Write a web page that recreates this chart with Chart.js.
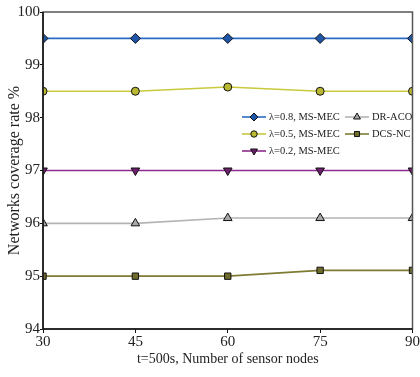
<!DOCTYPE html>
<html>
<head>
<meta charset="utf-8">
<script src="https://cdn.jsdelivr.net/npm/chart.js@4.4.1/dist/chart.umd.min.js"></script>
<style>
  html, body { margin: 0; padding: 0; background: #fff; }
  #wrap { width: 420px; height: 377px; }
</style>
</head>
<body>
<div id="wrap"><canvas id="coverChart" width="420" height="377"></canvas></div>
<script>
// Data
const nodes = [30, 45, 60, 75, 90];
const labels = ['λ=0.8, MS-MEC', 'λ=0.5, MS-MEC', 'λ=0.2, MS-MEC', 'DR-ACO', 'DCS-NC'];
const msMec08 = [99.5, 99.5, 99.5, 99.5, 99.5];
const msMec05 = [98.5, 98.5, 98.58, 98.5, 98.5];
const msMec02 = [97, 97, 97, 97, 97];
const drAco = [96, 96, 96.1, 96.1, 96.1];
const dcsNc = [95, 95, 95, 95.11, 95.11];
const yTicks = [94, 95, 96, 97, 98, 99, 100];

const serif = '"Liberation Serif", "Times New Roman", serif';

function series(label, values, line, fill, style, radius, rotation) {
  return {
    label: label,
    data: values.map((v, i) => ({ x: nodes[i], y: v })),
    borderColor: line,
    backgroundColor: fill,
    borderWidth: 1.6,
    pointStyle: style,
    pointRadius: radius,
    pointRotation: rotation || 0,
    pointBackgroundColor: fill,
    pointBorderColor: '#111',
    pointBorderWidth: 1,
    tension: 0
  };
}

const datasets = [
  series(labels[0], msMec08, '#2b6cc4', '#1f56a8', 'rectRot', 5),
  series(labels[1], msMec05, '#c9c93c', '#b9b832', 'circle', 4),
  series(labels[2], msMec02, '#8e2b8e', '#6d1f6d', 'triangle', 5, 180),
  series(labels[3], drAco, '#b4b4b4', '#a8a8a8', 'triangle', 5),
  series(labels[4], dcsNc, '#7f7b32', '#6f6b2a', 'rect', 4.5)
];

// legend laid out in two columns inside the plot
const legendSlots = [
  { x: 242, y: 117 }, { x: 242, y: 134 }, { x: 242, y: 151 },
  { x: 345, y: 117 }, { x: 345, y: 134 }
];

function drawMarker(ctx, ds, x, y, scale) {
  ctx.save();
  ctx.fillStyle = ds.pointBackgroundColor;
  ctx.strokeStyle = '#111';
  ctx.lineWidth = 1;
  Chart.helpers.drawPoint(ctx, {
    pointStyle: ds.pointStyle,
    radius: ds.pointRadius * scale,
    rotation: ds.pointRotation,
    borderWidth: 1
  }, x, y);
  ctx.restore();
}

const framePlugin = {
  id: 'frame',
  afterDatasetsDraw(chart) {
    const ctx = chart.ctx;
    const a = chart.chartArea;
    ctx.save();
    ctx.strokeStyle = '#555';
    ctx.lineWidth = 1.5;
    ctx.strokeRect(a.left, a.top, a.right - a.left, a.bottom - a.top);
    ctx.strokeStyle = '#111';
    ctx.beginPath();
    ctx.moveTo(a.left, a.top);
    ctx.lineTo(a.left, a.bottom);
    ctx.lineTo(a.right, a.bottom);
    ctx.stroke();

    ctx.font = '10.5px ' + serif;
    ctx.textBaseline = 'middle';
    chart.data.datasets.forEach((ds, i) => {
      const s = legendSlots[i];
      ctx.strokeStyle = ds.borderColor;
      ctx.lineWidth = 1.6;
      ctx.beginPath();
      ctx.moveTo(s.x, s.y);
      ctx.lineTo(s.x + 24, s.y);
      ctx.stroke();
      drawMarker(ctx, ds, s.x + 12, s.y, 0.8);
      ctx.fillStyle = '#222';
      ctx.fillText(ds.label, s.x + 27, s.y + 0.5);
    });
    ctx.restore();
  }
};

const config = {
  type: 'line',
  data: { datasets: datasets },
  options: {
    responsive: false,
    animation: false,
    layout: { padding: { top: 12, right: 5, left: 0, bottom: 0 } },
    plugins: {
      legend: { display: false },
      tooltip: { enabled: false }
    },
    scales: {
      x: {
        type: 'linear',
        min: 30,
        max: 90,
        afterFit(scale) { scale.height = 48; },
        afterBuildTicks(scale) { scale.ticks = nodes.map(v => ({ value: v })); },
        grid: { display: true, drawOnChartArea: false, color: '#111', tickLength: 4 },
        border: { display: false },
        ticks: { color: '#222', font: { family: serif, size: 15 }, padding: 0, maxRotation: 0 },
        title: {
          display: true,
          text: 't=500s, Number of sensor nodes',
          color: '#222',
          font: { family: serif, size: 14 },
          padding: { top: 0, bottom: 9 }
        }
      },
      y: {
        min: 94,
        max: 100,
        afterFit(scale) { scale.width = 43; },
        afterBuildTicks(scale) { scale.ticks = yTicks.map(v => ({ value: v })); },
        grid: { display: true, drawOnChartArea: false, color: '#111', tickLength: 3 },
        border: { display: false },
        ticks: { color: '#222', font: { family: serif, size: 15 }, padding: 0 },
        title: {
          display: true,
          text: 'Networks coverage rate %',
          color: '#222',
          font: { family: serif, size: 16 },
          padding: { top: 5, bottom: 2 }
        }
      }
    }
  },
  plugins: [framePlugin]
};

const coverChart = new Chart(document.getElementById('coverChart'), config);
</script>
</body>
</html>
